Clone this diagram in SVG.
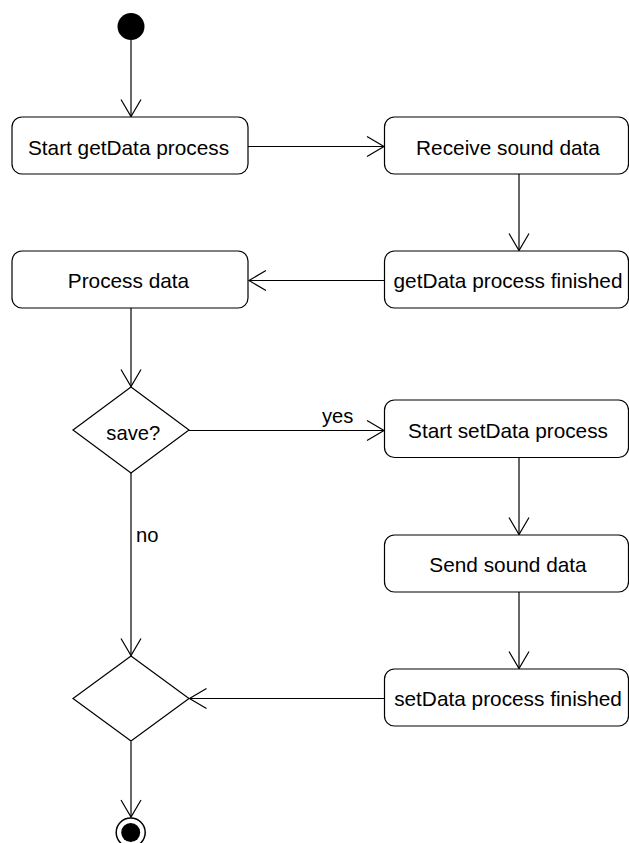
<svg xmlns="http://www.w3.org/2000/svg" width="629" height="843" viewBox="0 0 629 843">
  <style>
    .action { fill: #ffffff; stroke: #000000; stroke-width: 1.2; }
    .decision { fill: #ffffff; stroke: #000000; stroke-width: 1.2; }
    .label { font-family: "Liberation Sans", Arial, sans-serif; font-size: 20.8px; fill: #000000; }
    .small { font-size: 20.2px; }
    .edge { fill: none; stroke: #000000; stroke-width: 1.2; marker-end: url(#open-arrow); }
  </style>
  <defs>
    <marker id="open-arrow" markerUnits="userSpaceOnUse" markerWidth="22" markerHeight="24" viewBox="-19 -12 22 24" refX="0" refY="0" orient="auto" overflow="visible">
      <path d="M-17,-10 L0,0 L-17,10" fill="none" stroke="#000000" stroke-width="1.2"/>
    </marker>
  </defs>
  <rect width="629" height="843" fill="#ffffff"/>

  <!-- connectors -->
  <g id="connectors">
    <path class="edge" d="M131,40 L131,116.5"/>
    <path class="edge" d="M248,146.5 L384,146.5"/>
    <path class="edge" d="M519,174 L519,250.5"/>
    <path class="edge" d="M384,280.5 L249,280.5"/>
    <path class="edge" d="M131,308 L131,386.5"/>
    <path class="edge" d="M189,430.5 L384,430.5"/>
    <text class="label small" x="322" y="423">yes</text>
    <path class="edge" d="M131,473 L131,655.5"/>
    <text class="label small" x="136" y="541.5">no</text>
    <path class="edge" d="M519,457.5 L519,534.5"/>
    <path class="edge" d="M519,591.5 L519,668.5"/>
    <path class="edge" d="M384,698.5 L189.5,698.5"/>
    <path class="edge" d="M131,741.5 L131,817"/>
  </g>

  <!-- start node -->
  <g id="start">
    <circle cx="131" cy="26.5" r="13.5" fill="#000000"/>
  </g>

  <g id="start-getdata">
    <rect class="action" x="12" y="117" width="236" height="57" rx="10" ry="10"/>
    <text class="label" x="128.5" y="154.5" text-anchor="middle">Start getData process</text>
  </g>

  <g id="receive-sound">
    <rect class="action" x="384.5" y="117" width="244" height="57" rx="10" ry="10"/>
    <text class="label" x="508" y="154.5" text-anchor="middle">Receive sound data</text>
  </g>

  <g id="getdata-finished">
    <rect class="action" x="384.5" y="251" width="244" height="57" rx="10" ry="10"/>
    <text class="label" x="508" y="288" text-anchor="middle">getData process finished</text>
  </g>

  <g id="process-data">
    <rect class="action" x="12" y="251" width="236" height="57" rx="10" ry="10"/>
    <text class="label" x="128.5" y="288" text-anchor="middle">Process data</text>
  </g>

  <g id="save-decision">
    <polygon class="decision" points="131,387 189,430 131,473 73,430"/>
    <text class="label small" x="133.3" y="440" text-anchor="middle">save?</text>
  </g>

  <g id="start-setdata">
    <rect class="action" x="384.5" y="400" width="244" height="57.5" rx="10" ry="10"/>
    <text class="label" x="508" y="437.5" text-anchor="middle">Start setData process</text>
  </g>

  <g id="send-sound">
    <rect class="action" x="384.5" y="535" width="244" height="57" rx="10" ry="10"/>
    <text class="label" x="508" y="572" text-anchor="middle">Send sound data</text>
  </g>

  <g id="setdata-finished">
    <rect class="action" x="384.5" y="669" width="244" height="57" rx="10" ry="10"/>
    <text class="label" x="508" y="706" text-anchor="middle">setData process finished</text>
  </g>

  <g id="merge">
    <polygon class="decision" points="131,656 189,698.5 131,741 73,698.5"/>
  </g>

  <!-- final node -->
  <g id="end">
    <circle cx="130.7" cy="832.5" r="14.5" fill="#ffffff" stroke="#000000" stroke-width="1.5"/>
    <circle cx="130.7" cy="832.5" r="9.5" fill="#000000"/>
  </g>
</svg>
